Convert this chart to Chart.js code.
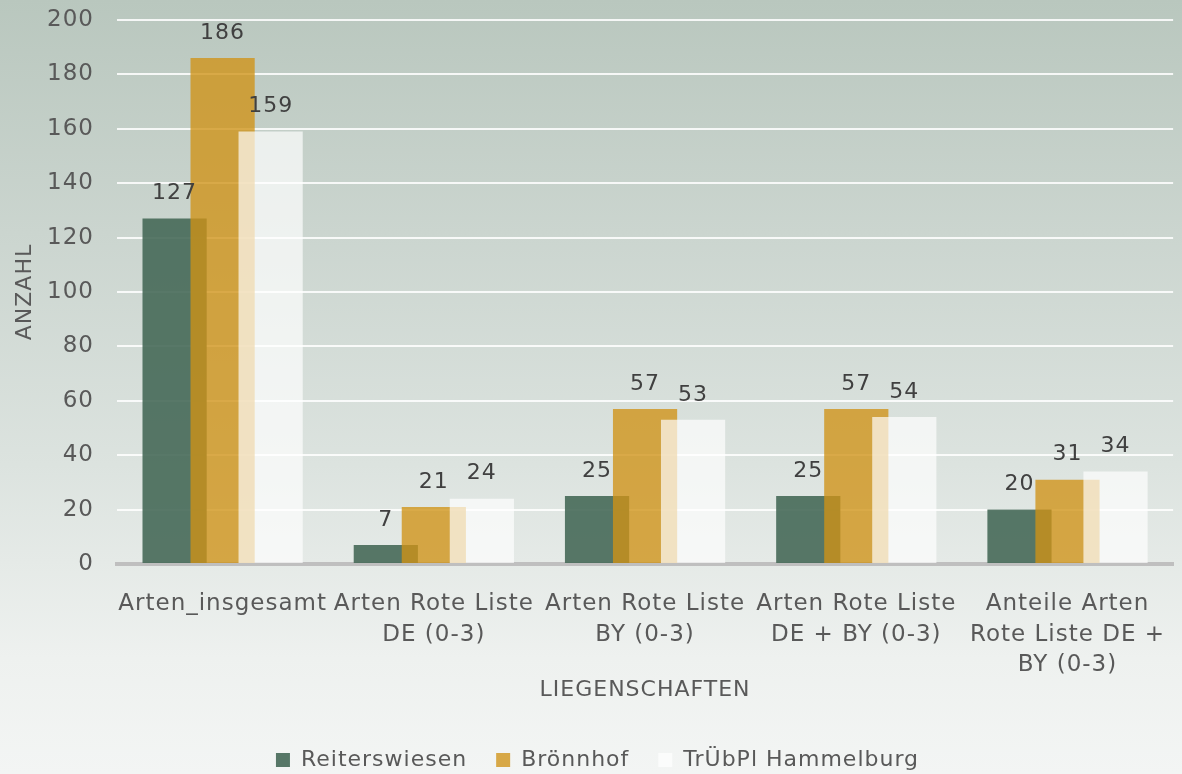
<!DOCTYPE html>
<html lang="de">
<head>
<meta charset="utf-8">
<title>Arten je Liegenschaft</title>
<script src="https://cdn.jsdelivr.net/npm/chart.js@4.4.0/dist/chart.umd.min.js"></script>
<style>
  html, body {
    margin: 0;
    padding: 0;
  }
  body {
    width: 1182px;
    height: 774px;
    overflow: hidden;
    background: linear-gradient(to bottom, #b9c7be 0%, #cbd5cf 30%, #dce3df 60%, #eef1ef 85%, #f3f5f4 100%);
  }
  canvas {
    display: block;
  }
</style>
</head>
<body>
<canvas id="chart" width="1182" height="774"></canvas>
<script>
// Kategorien (x-Achse), mehrzeilig wie im Original
const categories = [
  'Arten_insgesamt',
  ['Arten Rote Liste', 'DE (0-3)'],
  ['Arten Rote Liste', 'BY (0-3)'],
  ['Arten Rote Liste', 'DE + BY (0-3)'],
  ['Anteile Arten', 'Rote Liste DE +', 'BY (0-3)'],
];

// Werte je Liegenschaft
const reiterswiesen = [127, 7, 25, 25, 20];
const broennhof = [186, 21, 57, 57, 31];
const truebplHammelburg = [159, 24, 53, 54, 34];

const seriesNames = ['Reiterswiesen', 'Brönnhof', 'TrÜbPl Hammelburg'];

const yMin = 0;
const yMax = 200;
const yStep = 20;

const textColor = '#595959';
const fontFamily = "'DejaVu Sans', Verdana, sans-serif";

Chart.defaults.font.family = fontFamily;
Chart.defaults.color = textColor;

// Buchstabenabstand wie im Original (Canvas-Eigenschaft, wird bei Resize zurückgesetzt)
const spacing = {
  id: 'spacing',
  beforeUpdate(chart) { chart.ctx.letterSpacing = '1px'; },
  beforeLayout(chart) { chart.ctx.letterSpacing = '1px'; },
  beforeDraw(chart) { chart.ctx.letterSpacing = '1px'; },
};

// spätere Reihen liegen oben (wie in Excel), danach Datenbeschriftungen
const barsAndLabels = {
  id: 'barsAndLabels',
  beforeDatasetsDraw(chart) {
    const ctx = chart.ctx;
    chart.data.datasets.forEach((ds, i) => {
      const meta = chart.getDatasetMeta(i);
      if (!meta.hidden) meta.controller.draw();
    });

    ctx.save();
    ctx.font = `22px ${fontFamily}`;
    ctx.fillStyle = '#404040';
    ctx.textAlign = 'center';
    ctx.textBaseline = 'middle';
    chart.data.datasets.forEach((ds, i) => {
      const meta = chart.getDatasetMeta(i);
      meta.data.forEach((bar, j) => {
        ctx.fillText(String(ds.data[j]), bar.x, bar.y - 25);
      });
    });
    ctx.restore();
    return false;
  },
};

const ctx = document.getElementById('chart');

new Chart(ctx, {
  type: 'bar',
  data: {
    labels: categories,
    datasets: [
      {
        label: seriesNames[0],
        data: reiterswiesen,
        backgroundColor: 'rgba(70,105,88,0.9)',
        borderWidth: 0,
      },
      {
        label: seriesNames[1],
        data: broennhof,
        backgroundColor: 'rgba(208,146,22,0.78)',
        borderWidth: 0,
      },
      {
        label: seriesNames[2],
        data: truebplHammelburg,
        backgroundColor: 'rgba(255,255,255,0.68)',
        borderWidth: 0,
      },
    ],
  },
  options: {
    responsive: false,
    animation: false,
    categoryPercentage: 0.682,
    barPercentage: 1.337,
    layout: {
      padding: { top: 20, right: -13, bottom: -7, left: 0 },
    },
    scales: {
      x: {
        grid: { display: false },
        border: { display: true, color: '#bfbfbf', width: 4 },
        ticks: {
          font: { size: 23, lineHeight: 1.33 },
          color: textColor,
          padding: 17,
          maxRotation: 0,
          minRotation: 0,
          autoSkip: false,
        },
        title: {
          display: true,
          text: 'LIEGENSCHAFTEN',
          font: { size: 22 },
          color: textColor,
          padding: { top: 0, bottom: 17 },
        },
        afterFit(scale) { scale.height = 156; },
      },
      y: {
        min: yMin,
        max: yMax,
        grid: {
          color: 'rgba(255,255,255,0.85)',
          lineWidth: 2,
          drawTicks: true,
          tickLength: 20,
          tickColor: 'rgba(0,0,0,0)',
        },
        border: { display: false },
        ticks: {
          stepSize: yStep,
          font: { size: 23 },
          color: textColor,
          padding: 3,
        },
        title: {
          display: true,
          text: 'ANZAHL',
          font: { size: 22 },
          color: textColor,
          padding: { top: 12, bottom: 0 },
        },
        afterFit(scale) { scale.width = 117; },
      },
    },
    plugins: {
      legend: {
        position: 'bottom',
        labels: {
          font: { size: 22 },
          color: textColor,
          boxWidth: 14,
          boxHeight: 14,
          padding: 29,
        },
      },
      tooltip: { enabled: false },
    },
  },
  plugins: [spacing, barsAndLabels],
});
</script>
</body>
</html>
